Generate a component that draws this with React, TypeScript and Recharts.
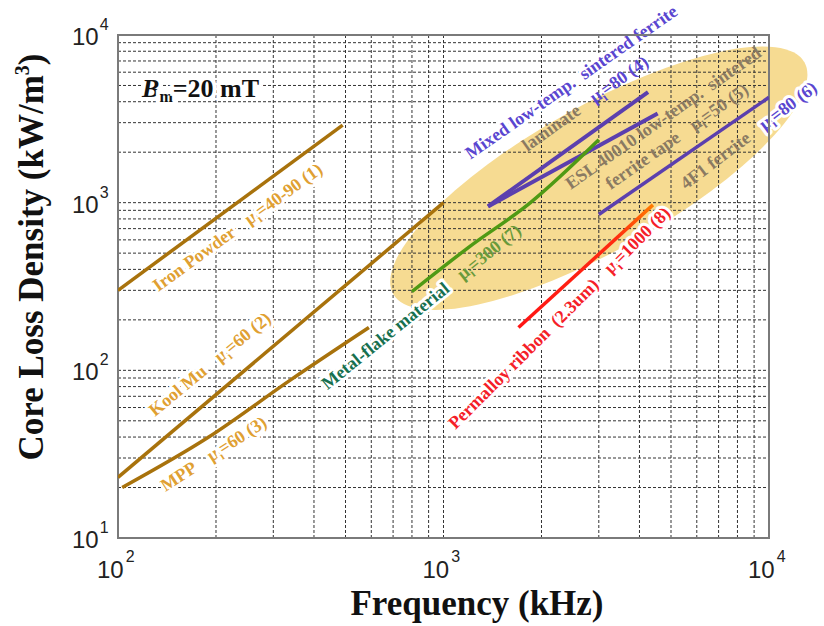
import { LineChart, Line, XAxis, YAxis, CartesianGrid, ReferenceDot, ReferenceArea } from 'recharts';

// tick values (log decades with minor steps)
const freqTicks = [100, 200, 300, 400, 500, 600, 700, 800, 900, 1000, 2000, 3000, 4000, 5000, 6000, 7000, 8000, 9000, 10000];
const lossTicks = [
  10, 20, 30, 40, 50, 60, 70, 80, 90,
  100, 200, 300, 400, 500, 600, 700, 800, 900,
  1000, 2000, 3000, 4000, 5000, 6000, 7000, 8000, 9000, 10000,
];

// series: frequency (kHz) / core loss density (kW/m3)
const ironPowderFreq = [100, 490];
const ironPowderLoss = [300, 2900];
const koolMuFreq = [100, 1000];
const koolMuLoss = [23, 1000];
const mppFreq = [103, 190, 340, 590];
const mppLoss = [20, 40, 88, 180];
const laminateFreq = [1370, 4250];
const laminateLoss = [950, 4570];
const eslFreq = [1370, 4550];
const eslLoss = [950, 3400];
const ferrite4F1Freq = [3000, 10000];
const ferrite4F1Loss = [850, 4250];
const metalFlakeFreq = [800, 1200, 1850, 3000];
const metalFlakeLoss = [295, 545, 1000, 2370];
const permalloyFreq = [1700, 4400];
const permalloyLoss = [180, 970];

const pts = (xs: number[], ys: number[]) => xs.map((x, i) => ({ x, y: ys[i] }));

const BROWN = '#a8720c';
const GOLD = '#e0a032';
const PURPLE_LINE = '#5b3fae';
const PURPLE_TXT = '#5a46d0';
const TAUPE = '#8a7a62';
const GREEN = '#4f9a14';
const SERIF = '"Liberation Serif", "Times New Roman", serif';
const SANS = '"Liberation Sans", Arial, sans-serif';

type Seg = { text: string; color: string; dx?: number; mu?: boolean; halo?: boolean };

// annotation anchors (baseline start, data coords)
const notes: { x: number; y: number; angle: number; segs: Seg[] }[] = [
  { x: 133, y: 293, angle: -36, segs: [{ text: 'Iron Powder', color: GOLD, halo: true }, { text: '=40-90 (1)', color: GOLD, mu: true, dx: 16, halo: true }] },
  { x: 130, y: 52.7, angle: -39.5, segs: [{ text: 'Kool Mu', color: GOLD, halo: true }, { text: '=60 (2)', color: GOLD, mu: true, dx: 16, halo: true }] },
  { x: 140, y: 18.8, angle: -33, segs: [{ text: 'MPP', color: GOLD, halo: true }, { text: '=60 (3)', color: GOLD, mu: true, dx: 16, halo: true }] },
  { x: 440, y: 76, angle: -39, segs: [{ text: 'Metal-flake material', color: '#17704f', halo: true }, { text: '=300 (7)', color: '#6a9a3a', mu: true, dx: 16 }] },
  { x: 1089, y: 44, angle: -45, segs: [{ text: 'Permalloy ribbon  (2.3um)', color: '#f52028', halo: true }, { text: '=1000 (8)', color: '#f52028', mu: true, dx: 16, halo: true }] },
  { x: 1211, y: 1800, angle: -35, segs: [{ text: 'Mixed low-temp.  sintered ferrite', color: PURPLE_TXT, halo: true }] },
  { x: 1811, y: 2005, angle: -35.5, segs: [{ text: 'laminate', color: TAUPE }, { text: '=80 (4)', color: PURPLE_TXT, mu: true, dx: 16 }] },
  { x: 2460, y: 1191, angle: -35, segs: [{ text: 'ESL 40010 low-temp.  sintered', color: TAUPE }] },
  { x: 3265, y: 1191, angle: -35, segs: [{ text: 'ferrite tape', color: TAUPE }, { text: '=50 (5)', color: TAUPE, mu: true, dx: 16 }] },
  { x: 5560, y: 1191, angle: -37, segs: [{ text: '4F1 ferrite', color: TAUPE }, { text: '=80 (6)', color: PURPLE_TXT, mu: true, dx: 16, halo: true }] },
];

const isDecade = (v: number) => Math.abs(Math.log10(v) - Math.round(Math.log10(v))) < 1e-9;

function XTick(props: any) {
  const { x, y, payload } = props;
  if (!isDecade(payload.value)) return null;
  const exp = Math.round(Math.log10(payload.value));
  return (
    <text x={x - 21} y={y + 40} fontFamily={SANS} fill="#222">
      <tspan fontSize={24}>10</tspan>
      <tspan fontSize={16} dx={2} dy={-16}>{exp}</tspan>
    </text>
  );
}

function YTick(props: any) {
  const { x, y, payload } = props;
  if (!isDecade(payload.value)) return null;
  const exp = Math.round(Math.log10(payload.value));
  return (
    <text x={x - 46} y={y + 10} fontFamily={SANS} fill="#222">
      <tspan fontSize={24}>10</tspan>
      <tspan fontSize={16} dx={1} dy={-15}>{exp}</tspan>
    </text>
  );
}

function renderNote(segs: Seg[], angle: number) {
  return (p: any) => {
    const { cx, cy } = p;
    if (cx == null || cy == null) return <g />;
    const size = 18;
    return (
      <text
        x={cx}
        y={cy}
        transform={`rotate(${angle} ${cx} ${cy})`}
        fontFamily={SERIF}
        fontWeight="bold"
        fontSize={size}
        strokeLinejoin="round"
        style={{ whiteSpace: 'pre' }}
      >
        {segs.map((s, i) => {
          const halo = s.halo ? { stroke: '#fff', strokeWidth: 6, paintOrder: 'stroke' as const } : {};
          if (!s.mu) {
            return (
              <tspan key={i} dx={s.dx} fill={s.color} {...halo}>
                {s.text}
              </tspan>
            );
          }
          return [
            <tspan key={i + 'a'} dx={s.dx} fill={s.color} {...halo}>μ</tspan>,
            <tspan key={i + 'b'} fill={s.color} fontSize={12} dy={4} {...halo}>i</tspan>,
            <tspan key={i + 'c'} fill={s.color} dy={-4} {...halo}>{s.text}</tspan>,
          ];
        })}
      </text>
    );
  };
}

export default function App() {
  return (
    <div style={{ position: 'absolute', left: 0, top: 0, width: 824, height: 626, background: '#fff' }}>
      <LineChart width={824} height={626} margin={{ top: 35, right: 55, bottom: 48, left: 58 }}>
        <defs>
          <linearGradient id="permalloyGrad" x1="0" y1="1" x2="1" y2="0">
            <stop offset="0%" stopColor="#ff1414" />
            <stop offset="72%" stopColor="#ff2a10" />
            <stop offset="100%" stopColor="#ff7c00" />
          </linearGradient>
        </defs>
        <ReferenceDot
          x={3000}
          y={1400}
          r={0}
          zIndex={-200}
          ifOverflow="visible"
          shape={(p: any) => (
            <ellipse cx={p.cx} cy={p.cy} rx={236} ry={72} transform={`rotate(-29.4 ${p.cx} ${p.cy})`} fill="#f6db92" />
          )}
        />
        <CartesianGrid stroke="#333" strokeDasharray="3 2" strokeWidth={1} />
        <XAxis
          dataKey="x"
          type="number"
          scale="log"
          domain={[100, 10000]}
          ticks={freqTicks}
          allowDataOverflow
          axisLine={false}
          tickLine={false}
          tickSize={0}
          tickMargin={0}
          height={40}
          tick={<XTick />}
          interval={0}
        />
        <YAxis
          dataKey="y"
          type="number"
          scale="log"
          domain={[10, 10000]}
          ticks={lossTicks}
          allowDataOverflow
          axisLine={false}
          tickLine={false}
          tickSize={0}
          tickMargin={0}
          width={60}
          tick={<YTick />}
          interval={0}
        />
        {notes.map((n, i) => (
          <ReferenceDot key={i} x={n.x} y={n.y} r={0} zIndex={-50} ifOverflow="visible" shape={renderNote(n.segs, n.angle)} />
        ))}
        <ReferenceDot
          x={118.6}
          y={4270}
          r={0}
          zIndex={-50}
          ifOverflow="visible"
          shape={(p: any) => (
            <text x={p.cx} y={p.cy} fontFamily={SERIF} fontWeight="bold" fontSize={26} fill="#111" stroke="#fff" strokeWidth={8} paintOrder="stroke">
              <tspan fontStyle="italic">B</tspan>
              <tspan fontSize={16} dy={5}>m</tspan>
              <tspan dy={-5}>=20 mT</tspan>
            </text>
          )}
        />
        <Line data={pts(ironPowderFreq, ironPowderLoss)} dataKey="y" type="linear" stroke={BROWN} strokeWidth={3.5} dot={false} isAnimationActive={false} />
        <Line data={pts(koolMuFreq, koolMuLoss)} dataKey="y" type="linear" stroke={BROWN} strokeWidth={3.5} dot={false} isAnimationActive={false} />
        <Line data={pts(mppFreq, mppLoss)} dataKey="y" type="monotone" stroke={BROWN} strokeWidth={3.5} dot={false} isAnimationActive={false} />
        <Line data={pts(laminateFreq, laminateLoss)} dataKey="y" type="linear" stroke={PURPLE_LINE} strokeWidth={4} dot={false} isAnimationActive={false} />
        <Line data={pts(eslFreq, eslLoss)} dataKey="y" type="linear" stroke={PURPLE_LINE} strokeWidth={4} dot={false} isAnimationActive={false} />
        <Line data={pts(ferrite4F1Freq, ferrite4F1Loss)} dataKey="y" type="linear" stroke={PURPLE_LINE} strokeWidth={3.5} dot={false} isAnimationActive={false} />
        <Line data={pts(metalFlakeFreq, metalFlakeLoss)} dataKey="y" type="monotone" stroke={GREEN} strokeWidth={3.5} dot={false} isAnimationActive={false} />
        <Line data={pts(permalloyFreq, permalloyLoss)} dataKey="y" type="linear" stroke="url(#permalloyGrad)" strokeWidth={3.5} dot={false} isAnimationActive={false} />
        <ReferenceArea x1={100} x2={10000} y1={10} y2={10000} fill="none" stroke="#7a7a7a" strokeWidth={2} ifOverflow="visible" />
      </LineChart>
      <div
        style={{
          position: 'absolute',
          left: 31,
          top: 257,
          transform: 'translate(-50%, -50%) rotate(-90deg)',
          whiteSpace: 'nowrap',
          fontFamily: SERIF,
          fontWeight: 'bold',
          fontSize: 35,
          lineHeight: 1,
          color: '#111',
        }}
      >
        Core Loss Density (kW/m<sup style={{ fontSize: 20, verticalAlign: '0.7em', lineHeight: 0 }}>3</sup>)
      </div>
      <div
        style={{
          position: 'absolute',
          left: 477,
          top: 586,
          transform: 'translateX(-50%)',
          whiteSpace: 'nowrap',
          fontFamily: SERIF,
          fontWeight: 'bold',
          fontSize: 35,
          lineHeight: 1,
          color: '#111',
        }}
      >
        Frequency (kHz)
      </div>
    </div>
  );
}
